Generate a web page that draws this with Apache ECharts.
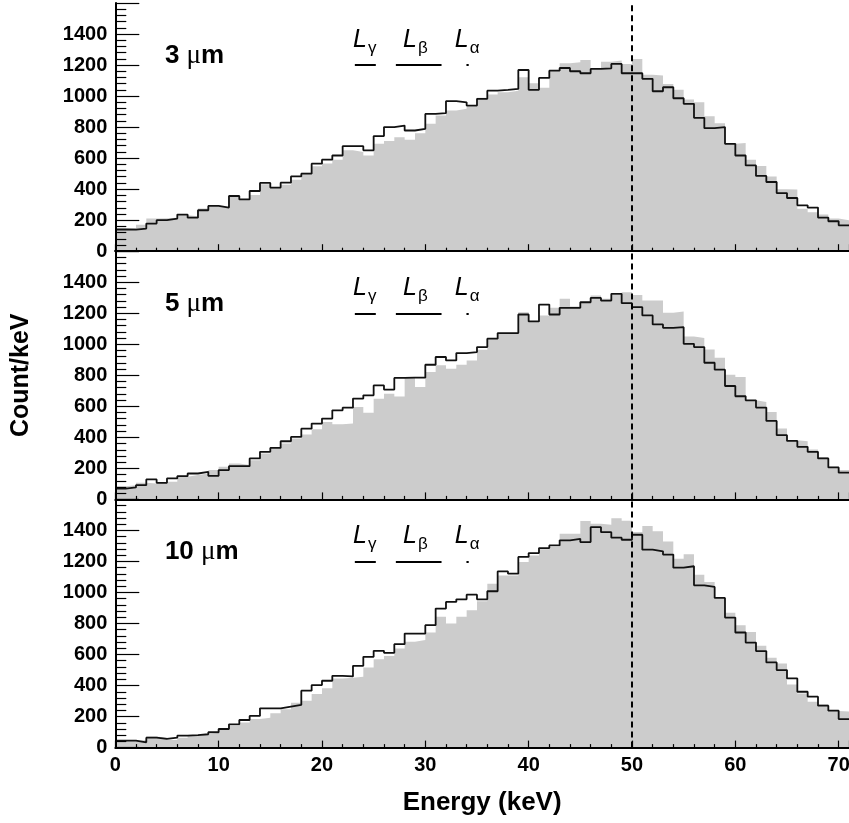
<!DOCTYPE html>
<html><head><meta charset="utf-8">
<script src="https://cdn.jsdelivr.net/npm/echarts@6/dist/echarts.min.js"></script>
<style>html,body{margin:0;padding:0;background:#fff}#c{width:849px;height:823px}</style>
</head><body><div id="c"></div>
<script>
// ---- data (1 keV bins, 0..71 keV) ----
const panelLabels = ['3', '5', '10'];           // thickness in µm
const energyMax = 71;
const xTicks = [0, 10, 20, 30, 40, 50, 60, 70];
const yTicks = [0, 200, 400, 600, 800, 1000, 1200, 1400];

// black outline histograms
const line3um = [140,139,146,178,200,210,236,216,264,292,281,356,334,388,440,410,442,482,500,564,590,617,677,677,650,742,800,810,778,789,885,890,967,960,939,982,1035,1040,1046,1168,1040,1117,1164,1181,1160,1147,1175,1179,1207,1147,1147,1111,1031,1057,986,950,860,793,800,692,617,553,485,446,375,343,296,281,217,193,167];
const line5um = [70,77,92,129,107,135,150,167,178,152,189,214,214,264,307,332,375,403,456,489,521,574,591,650,671,735,708,783,785,785,868,918,896,943,950,982,1036,1072,1072,1192,1147,1256,1192,1235,1235,1271,1299,1282,1325,1265,1239,1186,1128,1106,1110,1003,982,881,836,731,665,639,592,506,414,377,339,307,264,206,172];
const line10um = [45,45,34,64,56,64,77,81,86,99,120,150,178,204,253,253,264,275,367,403,431,463,459,527,585,624,611,667,735,735,789,896,939,956,986,956,1008,1136,1121,1229,1254,1286,1303,1336,1346,1325,1421,1389,1353,1340,1372,1276,1265,1244,1160,1169,1046,1036,965,838,742,677,622,549,500,446,360,328,270,238,184];

// grey filled histograms
const fill3um = [146,150,170,210,212,215,232,226,275,290,283,350,334,362,432,408,428,460,505,548,565,590,650,639,617,692,710,735,718,761,821,875,907,918,933,990,1010,1025,1035,1121,1083,1053,1164,1211,1218,1233,1175,1222,1229,1207,1239,1138,1132,1078,1040,978,960,870,825,692,697,590,549,482,399,397,274,251,236,210,199];
const fill5um = [85,92,107,103,114,114,146,157,167,189,210,232,221,253,296,330,360,392,418,452,499,484,489,595,559,649,681,664,782,725,821,864,843,868,896,965,1036,1072,1072,1207,1143,1186,1235,1293,1243,1271,1314,1293,1318,1335,1318,1282,1282,1203,1212,1050,1040,967,913,804,789,639,628,564,457,382,375,322,274,210,189];
const fill10um = [43,43,49,71,64,49,64,77,86,92,124,139,161,184,193,221,247,289,302,345,382,446,450,457,517,570,590,639,682,693,742,843,800,843,885,943,1057,1110,1110,1196,1239,1278,1293,1379,1379,1461,1443,1436,1479,1463,1390,1428,1394,1329,1218,1246,1115,1068,965,870,789,746,656,579,542,407,349,296,279,236,232];

// annotations (energies in keV)
const refLineEnergy = 50;
const lineNames = ['γ', 'β', 'α'];
const lineLabelStart = [23.0, 27.85, 32.85];
const lineRanges = [[23.18, 25.21], [27.15, 31.57], [33.98, 34.2]];
const lineBarLevel = 1200;
const lineLabelLevel = 1348;
const panelLabelPos = [4.8, 1262];

// ---- build ----
const lines = [line3um, line5um, line10um];
const fills = [fill3um, fill5um, fill10um];
function steps(vals) {
  const pts = vals.map((v, i) => [i, v]);
  pts.push([vals.length, vals[vals.length - 1]]);
  return pts;
}
const FONT = 'Liberation Sans';
const tops = [3, 251.2, 499.4];
const H = 248.2;
const grids = tops.map(t => ({left: 115.3, right: 0, top: t, height: H,
  outerBoundsMode: 'none', containLabel: false}));

const xAxes = [];
const yAxes = [];
const series = [];
for (let g = 0; g < 3; g++) {
  xAxes.push({
    type: 'value', gridIndex: g, min: 0, max: energyMax, interval: 10, z: 10,
    axisLine: {show: true, onZero: false, lineStyle: {color: '#000', width: 2}},
    axisTick: {show: true, inside: true, length: 7, lineStyle: {color: '#000', width: 1.2}},
    minorTick: {show: true, splitNumber: 5, length: 3.5, lineStyle: {color: '#000', width: 1.2}},
    splitLine: {show: false},
    axisLabel: {show: g === 2, showMaxLabel: false, hideOverlap: false, margin: 8, color: '#000',
      fontFamily: FONT, fontWeight: 'bold', fontSize: 20,
      formatter: v => (xTicks.indexOf(v) >= 0 ? String(v) : '')},
    name: g === 2 ? 'Energy (keV)' : '', nameLocation: 'middle', nameGap: 42,
    nameTextStyle: {color: '#000', fontFamily: FONT, fontWeight: 'bold', fontSize: 26}
  });
  yAxes.push({
    type: 'value', gridIndex: g, min: 0, max: 1600, interval: 200, z: 10,
    axisLine: {show: true, onZero: false, lineStyle: {color: '#000', width: 2}},
    axisTick: {show: true, inside: true, length: 24, lineStyle: {color: '#000', width: 1.2}},
    minorTick: {show: true, splitNumber: 5, length: 11, lineStyle: {color: '#000', width: 1.2}},
    splitLine: {show: false},
    axisLabel: {showMaxLabel: false, hideOverlap: false, margin: 8, color: '#000', fontFamily: FONT,
      fontWeight: 'bold', fontSize: 20,
      formatter: v => (yTicks.indexOf(v) >= 0 ? String(v) : '')},
    name: g === 1 ? 'Count/keV' : '', nameLocation: 'middle', nameGap: 82,
    nameTextStyle: {color: '#000', fontFamily: FONT, fontWeight: 'bold', fontSize: 25}
  });
  series.push({
    type: 'line', xAxisIndex: g, yAxisIndex: g, step: 'end', data: steps(fills[g]),
    showSymbol: false, symbol: 'none', lineStyle: {width: 0},
    areaStyle: {color: '#cccccc', opacity: 1}, z: 1, silent: true, animation: false
  });
  series.push({
    type: 'line', xAxisIndex: g, yAxisIndex: g, step: 'end', data: steps(lines[g]),
    showSymbol: false, symbol: 'none', lineStyle: {width: 1.8, color: '#111'},
    z: 3, silent: true, animation: false,
    markLine: {
      silent: true, symbol: 'none', animation: false,
      label: {show: false},
      data: lineRanges.map(r => [{coord: [r[0], lineBarLevel]}, {coord: [r[1], lineBarLevel]}]),
      lineStyle: {color: '#000', width: 2, type: 'solid'}
    }
  });
  // dashed reference line at 50 keV
  series.push({
    type: 'line', xAxisIndex: g, yAxisIndex: g, data: [], silent: true, animation: false,
    markLine: {silent: true, symbol: 'none', animation: false, label: {show: false},
      lineStyle: {color: '#000', width: 2, type: [6, 4]},
      data: [[{coord: [refLineEnergy, 0]}, {coord: [refLineEnergy, 1600]}]]}
  });
  // text annotations
  series.push({
    type: 'scatter', xAxisIndex: g, yAxisIndex: g, symbolSize: 0, silent: true, animation: false, z: 5,
    itemStyle: {opacity: 1},
    data: [
      {value: panelLabelPos, label: {formatter: '{a|' + panelLabels[g] + ' }{u|μ}{a|m}'}},
      ...lineNames.map((n, i) => ({value: [lineLabelStart[i], lineLabelLevel],
        label: {formatter: '{L|L}{s|' + n + '}'}}))
    ],
    label: {show: true, position: 'right', distance: 0, color: '#000', opacity: 1, textBorderWidth: 0,
      rich: {
        a: {fontFamily: FONT, fontWeight: 'bold', fontSize: 26, color: '#000'},
        u: {fontFamily: 'Liberation Serif', fontSize: 27, color: '#000'},
        L: {fontFamily: FONT, fontStyle: 'italic', fontSize: 25, color: '#000', verticalAlign: 'bottom', padding: [0, 0, 4, 0]},
        s: {fontFamily: FONT, fontSize: 17, color: '#000', verticalAlign: 'bottom', padding: [0, 0, 0, 1]}
      }}
  });
}
// top frame of first panel
xAxes.push({type: 'value', gridIndex: 0, position: 'top', min: 0, max: energyMax, z: 10,
  axisLine: {show: true, lineStyle: {color: '#000', width: 2}}, axisTick: {show: false},
  axisLabel: {show: false}, splitLine: {show: false}});

const chart = echarts.init(document.getElementById('c'), null, {renderer: 'canvas'});
chart.setOption({animation: false, backgroundColor: '#fff', grid: grids, xAxis: xAxes, yAxis: yAxes, series: series});
</script></body></html>
